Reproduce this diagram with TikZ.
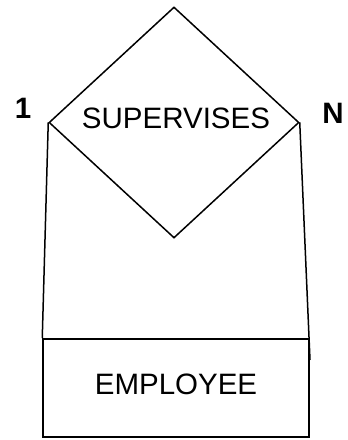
\documentclass[tikz,border=0pt]{standalone}
\usepackage{fontspec}
\setmainfont{Liberation Sans}
\usepackage{tikz}
\usetikzlibrary{shapes.geometric,positioning}
\tikzset{
  relbox/.style={diamond, draw, line width=1.5pt, inner sep=0pt,
                 minimum width=250pt, minimum height=231pt},
  entbox/.style={rectangle, draw, line width=1.5pt, inner sep=0pt,
                 minimum width=266pt, minimum height=98pt},
  namelbl/.style={font=\fontsize{29.5}{34}\selectfont},
  cardlbl/.style={font=\fontsize{29.5}{34}\selectfont\bfseries},
  link/.style={line width=1.5pt},
}

\begin{document}
\begin{tikzpicture}[x=1pt,y=-1pt]
  \useasboundingbox (0,0) rectangle (348,440);
  % relationship and entity
  \node[relbox] (rel) at (174,122.5) {};
  \node[namelbl] (relname) at (176,118.5) {SUPERVISES};
  \node[entbox] (emp) at (176,388) {};
  \node[namelbl] (empname) at (176,384) {EMPLOYEE};
  % cardinalities
  \node[cardlbl] (card1) at (23,108) {1};
  \node[cardlbl] (cardN) at (333,113) {N};
  % links
  \coordinate (nend) at (310,360);
  \draw[link] (rel.west) -- (emp.north west);
  \draw[link] (rel.east) -- (nend);
\end{tikzpicture}
\end{document}
